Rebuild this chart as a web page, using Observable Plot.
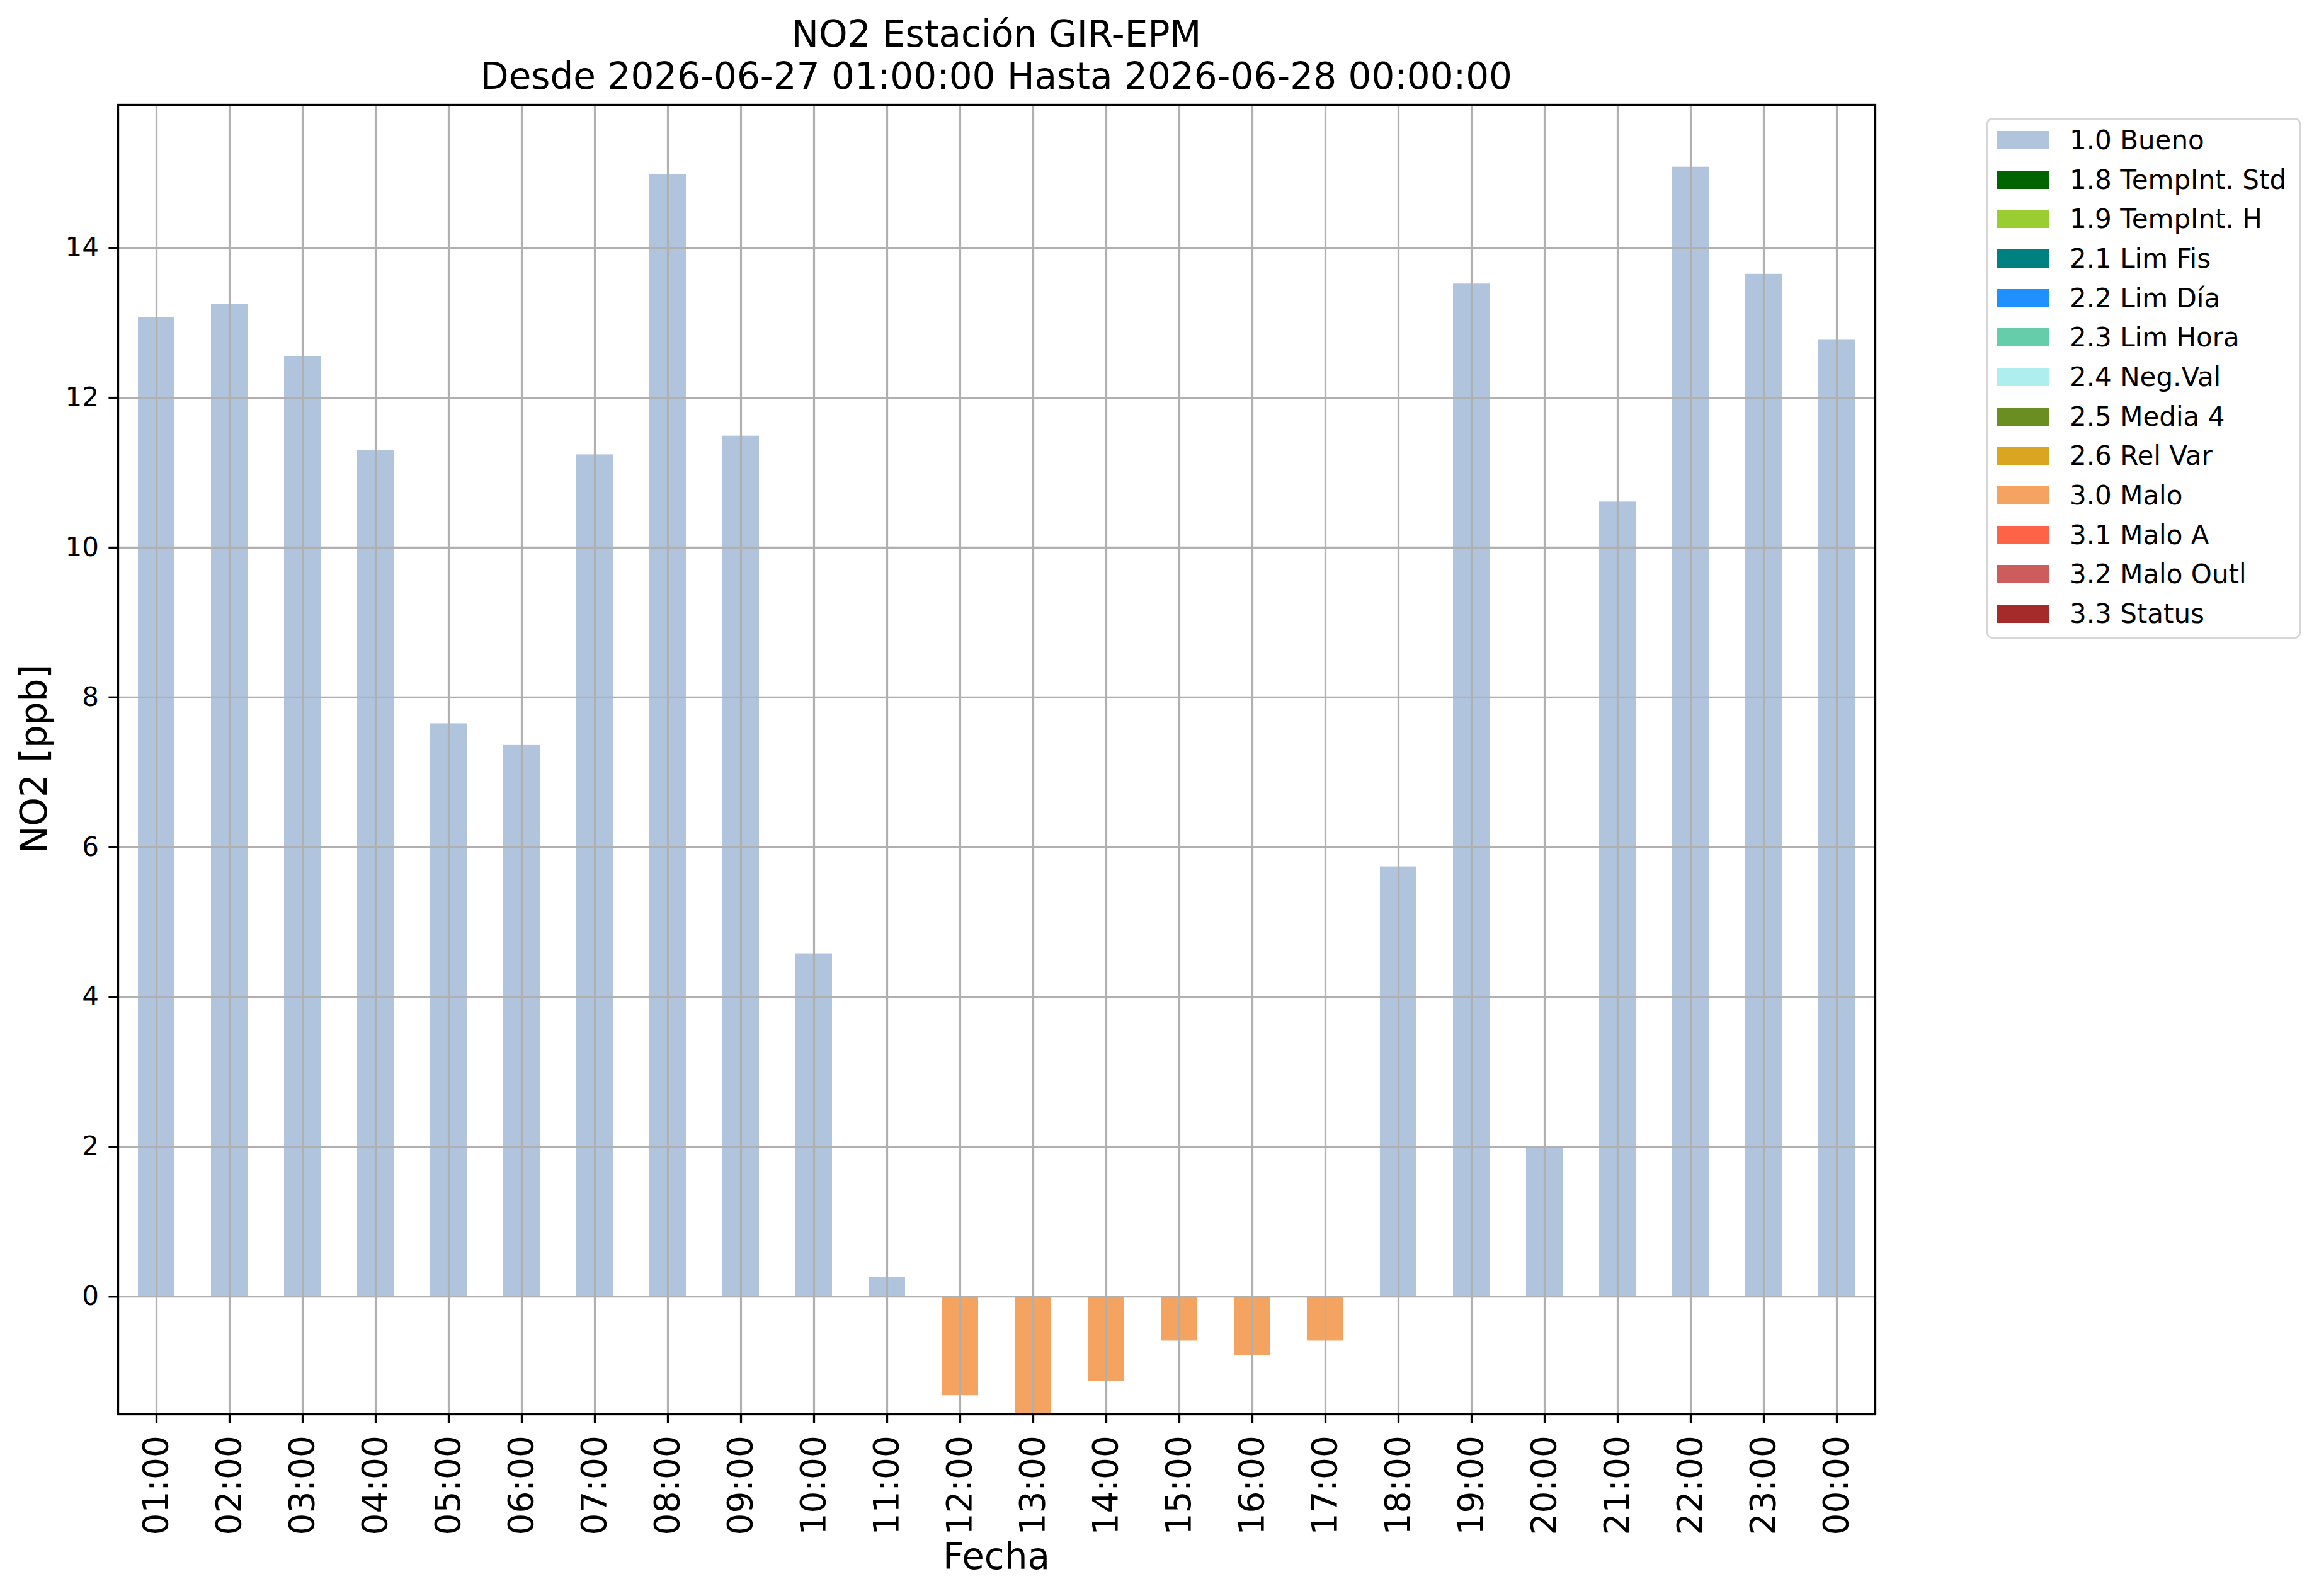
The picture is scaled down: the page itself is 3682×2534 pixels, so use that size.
<!DOCTYPE html>
<html>
<head>
<meta charset="utf-8">
<script src="https://cdn.jsdelivr.net/npm/d3@7"></script>
<script src="https://cdn.jsdelivr.net/npm/@observablehq/plot@0.6"></script>
<style>
html, body { margin: 0; padding: 0; background: white; }
#fig { position: relative; width: 3682px; height: 2534px; font-family: "DejaVu Sans"; color: black; background: white; overflow: hidden; }
#fig svg { position: absolute; left: 0; top: 0; }
.title { position: absolute; left: 187px; width: 2790px; top: 21px; text-align: center; font-size: 58px; line-height: 67px; white-space: nowrap; }
.xlabel { position: absolute; left: 187px; width: 2790px; top: 2442px; text-align: center; font-size: 58px; line-height: 58px; white-space: nowrap; }
.ylabel { position: absolute; left: 54px; top: 1205px; font-size: 58px; line-height: 58px; white-space: nowrap; transform: translate(-50%, -50%) rotate(-90deg); }
.legend { position: absolute; left: 3154px; top: 187px; width: 499px; height: 827px; box-sizing: border-box; border: 3px solid #d6d6d6; border-radius: 9px; background: rgba(255,255,255,0.8); padding-top: 1px; }
.legend .row { display: flex; align-items: center; height: 62.7px; }
.legend .sw { width: 83px; height: 29px; margin-left: 14px; flex: none; }
.legend .lab { margin-left: 32px; font-size: 42px; white-space: nowrap; }
</style>
</head>
<body>
<div id="fig"></div>
<script>
const hours = ["01:00","02:00","03:00","04:00","05:00","06:00","07:00","08:00","09:00","10:00","11:00","12:00",
               "13:00","14:00","15:00","16:00","17:00","18:00","19:00","20:00","21:00","22:00","23:00","00:00"];
const no2 = [13.07, 13.25, 12.55, 11.30, 7.65, 7.36, 11.24, 14.98, 11.49, 4.58, 0.26, -1.32,
             -1.57, -1.13, -0.59, -0.78, -0.59, 5.74, 13.52, 1.98, 10.61, 15.08, 13.65, 12.77];
const flags = ["1.0 Bueno","1.0 Bueno","1.0 Bueno","1.0 Bueno","1.0 Bueno","1.0 Bueno","1.0 Bueno","1.0 Bueno",
               "1.0 Bueno","1.0 Bueno","1.0 Bueno","3.0 Malo","3.0 Malo","3.0 Malo","3.0 Malo","3.0 Malo",
               "3.0 Malo","1.0 Bueno","1.0 Bueno","1.0 Bueno","1.0 Bueno","1.0 Bueno","1.0 Bueno","1.0 Bueno"];
const legendLabels = ["1.0 Bueno","1.8 TempInt. Std","1.9 TempInt. H","2.1 Lim Fis","2.2 Lim Día","2.3 Lim Hora",
                      "2.4 Neg.Val","2.5 Media 4","2.6 Rel Var","3.0 Malo","3.1 Malo A","3.2 Malo Outl","3.3 Status"];
const legendColors = ["#b0c4de","#006400","#9acd32","#008080","#1e90ff","#66cdaa",
                      "#afeeee","#6b8e23","#daa520","#f4a460","#ff6347","#cd5c5c","#a52a2a"];
const yTicks = [0, 2, 4, 6, 8, 10, 12, 14];
const yDomain = [-1.57, 15.91];
const titleLines = ["NO2 Estación GIR-EPM", "Desde 2026-06-27 01:00:00 Hasta 2026-06-28 00:00:00"];
const xLabel = "Fecha";
const yLabel = "NO2 [ppb]";

const data = hours.map((h, i) => ({hour: h, value: no2[i], flag: flags[i]}));

const chart = Plot.plot({
  width: 3682,
  height: 2534,
  marginLeft: 187,
  marginRight: 705,
  marginTop: 166,
  marginBottom: 289,
  style: {fontFamily: "DejaVu Sans", fontSize: "42px", background: "transparent", color: "black"},
  x: {type: "band", domain: hours, paddingInner: 0.5, paddingOuter: 0.25, label: null},
  y: {domain: yDomain, label: null},
  color: {type: "ordinal", domain: legendLabels, range: legendColors},
  marks: [
    Plot.barY(data, {x: "hour", y: "value", fill: "flag", clip: true}),
    Plot.gridX({stroke: "#b0b0b0", strokeOpacity: 1, strokeWidth: 3.2}),
    Plot.gridY(yTicks, {stroke: "#b0b0b0", strokeOpacity: 1, strokeWidth: 3.2}),
    Plot.frame({stroke: "black", strokeWidth: 3.3}),
    Plot.axisY({ticks: yTicks, tickSize: 14.6, tickPadding: 16, fontSize: 42, strokeWidth: 3.3, label: null, tickFormat: d => String(d)}),
    Plot.axisX({tickRotate: -90, tickSize: 14.6, tickPadding: 19, fontSize: 55, strokeWidth: 3.3, label: null})
  ]
});

const fig = document.getElementById("fig");
fig.appendChild(chart);

const t = document.createElement("div");
t.className = "title";
t.innerHTML = titleLines.map(s => `<div>${s}</div>`).join("");
fig.appendChild(t);

const xl = document.createElement("div");
xl.className = "xlabel";
xl.textContent = xLabel;
fig.appendChild(xl);

const yl = document.createElement("div");
yl.className = "ylabel";
yl.textContent = yLabel;
fig.appendChild(yl);

const lg = document.createElement("div");
lg.className = "legend";
const cscale = chart.scale("color");
legendLabels.forEach(lab => {
  const row = document.createElement("div");
  row.className = "row";
  const sw = document.createElement("div");
  sw.className = "sw";
  sw.style.background = cscale.apply(lab);
  const tx = document.createElement("div");
  tx.className = "lab";
  tx.textContent = lab;
  row.appendChild(sw);
  row.appendChild(tx);
  lg.appendChild(row);
});
fig.appendChild(lg);
</script>
</body>
</html>
